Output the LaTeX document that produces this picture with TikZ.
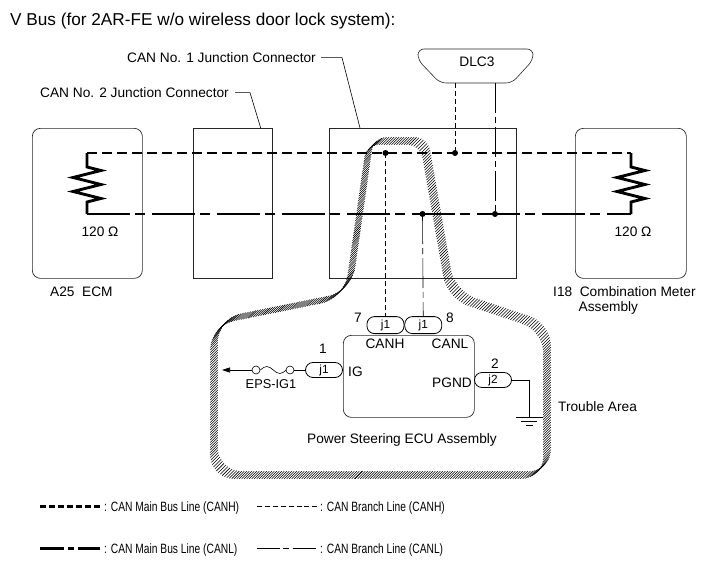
\documentclass[tikz,border=0pt]{standalone}
\usepackage{fontspec}
\setmainfont{Liberation Sans}
\newfontfamily\legendfont{Liberation Sans}[FakeStretch=0.76]
\usetikzlibrary{positioning,decorations.markings,arrows.meta}

\tikzset{
  every node/.style={inner sep=0pt, font=\fontsize{13.7}{16}\selectfont},
  unit/.style={draw=black!85, line width=0.7pt, minimum height=150pt, anchor=north west},
  pill/.style={draw, line width=0.8pt, rounded corners=7.5pt, minimum width=37pt, minimum height=16pt,
    font=\fontsize{11.8}{14}\selectfont, text height=6pt, text depth=0pt},
  wire/.style={line width=0.6pt},
  canh/.style={line width=2.8pt, dash pattern=on 10pt off 5pt},
  canl/.style={line width=2.8pt, dash pattern=on 43pt off 5pt on 10pt off 7pt},
  brh/.style={line width=0.6pt, dash pattern=on 5pt off 3pt},
  brl/.style={line width=0.6pt, dash pattern=on 30pt off 4pt on 6pt off 4pt},
  res/.style={line width=2.8pt},
  trouble/.style={postaction={decorate}, decoration={markings,
    mark=between positions 0 and 1 step 2.5pt with {\pgftransformresetnontranslations
      \draw[line width=0.55pt] (-3.8pt,-3.8pt) -- (3.8pt,3.8pt);}}},
  legend/.style={anchor=base west, font=\legendfont\fontsize{13.5}{16}\selectfont},
}

\begin{document}
\begin{tikzpicture}[x=1pt, y=-1pt]
    \useasboundingbox (0,0) rectangle (713,581);

    \node[anchor=base west, font=\fontsize{17.2}{20}\selectfont] (title) at (10,25)
        {V Bus (for 2AR-FE w/o wireless door lock system):};

    % units on the bus
    \node[unit, rounded corners=8pt, minimum width=110pt] (ecm) at (32,128) {};
    \node[unit, minimum width=79pt] (jc2) at (193,128) {};
    \node[unit, minimum width=187pt] (jc1) at (329,128) {};
    \node[unit, rounded corners=8pt, minimum width=111pt] (meter) at (575,128) {};

    \draw[wire, draw=black!85, rounded corners=6pt] (476,83) -- (440,83) -- (418,60) -- (418,49)
        -- (533,49) -- (533,60) -- (512,83) -- cycle;
    \node[anchor=base] (dlc) at (477,66) {DLC3};

    \node[anchor=base east] (lbl1) at (316,62.5) {CAN No. 1 Junction Connector};
    \node[anchor=base east] (lbl2) at (229,97.5) {CAN No. 2 Junction Connector};
    \draw[wire] ([xshift=5pt]lbl1.east) -- ++(21,0) -- ([xshift=31pt]jc1.north west);
    \draw[wire] ([xshift=6pt]lbl2.east) -- ++(15,0) -- ([xshift=-12pt]jc2.north east);

    \coordinate (hL) at (87,153);
    \coordinate (hR) at (631,153);
    \coordinate (lL) at (87,214);
    \coordinate (lR) at (631,214);
    \coordinate (hA) at (385.5,153);
    \coordinate (hD) at (455,153);
    \coordinate (lA) at (422.5,214);
    \coordinate (lD) at (495,214);
    \coordinate (dlcH) at (455,83);
    \coordinate (dlcL) at (495,83);

    % terminating resistors
    \foreach \x/\a/\b in {87/hL/lL, 631/hR/lR}
        \draw[res] (\a) -- (\x,167) -- ++(14,3.5) -- ++(-28,7) -- ++(28,7) -- ++(-28,7)
            -- ++(28,7) -- (\x,202) -- (\b);

    \draw[canh] (hL) -- (hR);
    \draw[canl] (lL) -- (lR);
    \draw[brh] (dlcH) -- (hD);
    \draw[brl] (dlcL) -- (lD);

    \node[anchor=base] (r1) at (100,236.5) {120 Ω};
    \node[anchor=base] (r2) at (633,236.5) {120 Ω};
    \node[anchor=base west] (ecmL) at (50,296.5) {A25\ \ ECM};
    \node[anchor=base west] (meterL) at (553,296) {I18\ \ Combination Meter};
    \node[anchor=base west] (meterL2) at (578.5,311.5) {Assembly};

    % power steering ECU
    \node[unit, rounded corners=8pt, minimum width=131pt, minimum height=82pt] (ps) at (343,335) {};
    \node[pill, minimum height=17pt, anchor=south] (pA) at (385.5,334) {j1};
    \node[pill, minimum height=17pt, right=0pt of pA] (pB) {j1};
    \node[pill, minimum height=15pt] (p1) at (324,370) {j1};
    \node[pill, minimum height=15pt] (p2) at (493,380) {j2};

    \draw[brh] (hA) -- (pA);
    \draw[brl] (lA) -- (pB);
    \foreach \p in {hA, hD, lA, lD}
        \fill (\p) circle (3pt);

    \node[anchor=base] (n7) at (358,322.5) {7};
    \node[anchor=base] (n8) at (450,322.5) {8};
    \node[anchor=base] (canhL) at (385,348) {CANH};
    \node[anchor=base] (canlL) at (450,348) {CANL};
    \node[anchor=base] (n1) at (323,353) {1};
    \node[anchor=base west] (ig) at (348,376) {IG};
    \node[anchor=base] (n2) at (495,368) {2};
    \node[anchor=base east] (pgnd) at (472,387) {PGND};
    \node[anchor=base, font=\fontsize{12.8}{15}\selectfont] (eps) at (271,388) {EPS-IG1};
    \node[anchor=base] (psL) at (402,443) {Power Steering ECU Assembly};
    \node[anchor=base west] (ta) at (558,411.5) {Trouble Area};

    % fuse and ground
    \coordinate (tip) at (222,370);
    \node[circle, draw, wire, minimum size=8pt] (fR) at (290,370) {};
    \node[circle, draw, wire, minimum size=8pt] (fL) at (256,370) {};
    \draw[wire] (p1) -- (fR);
    \draw[wire] (fL.east) sin ++(6.5,-3.5) cos ++(6.5,3.5) sin ++(6.5,3.5) cos ++(6.5,-3.5);
    \draw[wire, -{Triangle[length=8pt, width=5pt]}] (fL) -- (tip);

    \coordinate (gnd) at (529.5,417);
    \draw[wire] (p2) -- (gnd |- p2) -- (gnd);
    \draw[line width=0.8pt] (gnd) ++(-14,0) -- ++(27,0);
    \draw[line width=0.8pt] (gnd) ++(-8.5,4.5) -- ++(16,0);
    \draw[line width=0.8pt] (gnd) ++(-4,8.7) -- ++(7,0);

    % trouble area
    \path[trouble] (380,475) [rounded corners=24pt] -- (214,475) -- (214,322) -- (348,295)
        [rounded corners=13pt] -- (370,141) -- (424,141) [rounded corners=22pt] -- (451,295)
        -- (547,327) -- (547,475) -- cycle;

    % legend
    \draw[line width=3pt, dash pattern=on 6pt off 3pt] (40,506) -- (100,506);
    \draw[wire, dash pattern=on 5pt off 2.9pt] (257,506) -- (317,506);
    \draw[line width=3pt, dash pattern=on 24pt off 4pt on 6pt off 4pt] (40,548) -- (100,548);
    \draw[wire, dash pattern=on 23pt off 3pt on 6pt off 4pt] (257,548) -- (317,548);
    \node[legend] (lgA) at (104,511.5) {: CAN Main Bus Line (CANH)};
    \node[legend] (lgB) at (320,511.5) {: CAN Branch Line (CANH)};
    \node[legend] (lgC) at (104,553) {: CAN Main Bus Line (CANL)};
    \node[legend] (lgD) at (320,553) {: CAN Branch Line (CANL)};
\end{tikzpicture}
\end{document}
